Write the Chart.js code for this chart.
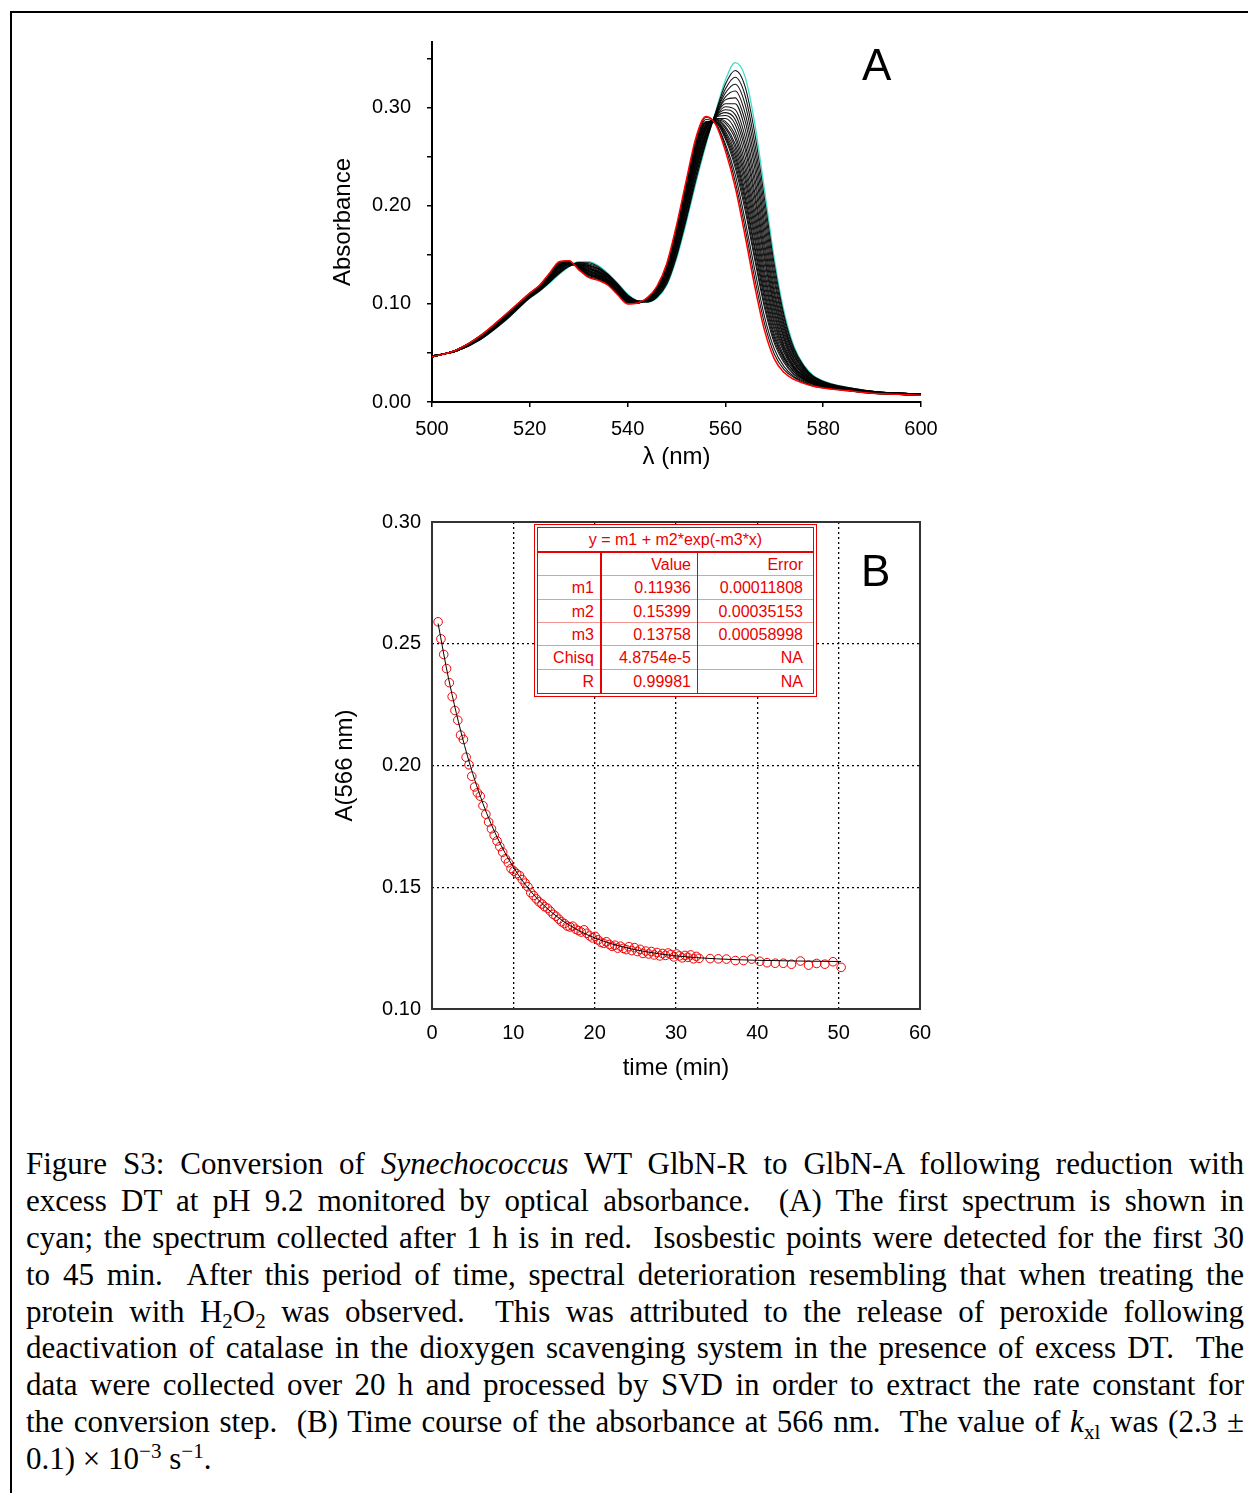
<!DOCTYPE html>
<html><head><meta charset="utf-8">
<script src="https://cdn.jsdelivr.net/npm/chart.js@4.4.1/dist/chart.umd.min.js"></script>
<style>
html,body{margin:0;padding:0;background:#fff;overflow:hidden;width:1248px;height:1493px;}
#frame{position:absolute;left:10px;top:11px;width:1300px;height:1600px;border:2px solid #000;box-sizing:border-box;}
canvas{position:absolute;}
#cA{left:320px;top:30px;}
#cB{left:320px;top:500px;}
.panel{position:absolute;font-family:'Liberation Sans',Arial,sans-serif;font-size:44px;line-height:44px;color:#000;}
.tb{position:absolute;font-family:'Liberation Sans',Arial,sans-serif;font-size:16px;color:rgb(235,0,0);white-space:nowrap;}
#caption{position:absolute;left:26px;top:1146px;width:1218px;font-family:'Liberation Serif','Times New Roman',serif;font-size:31px;color:#000;}
#caption div{height:36.9px;line-height:36.9px;text-align:justify;text-align-last:justify;white-space:normal;}
#caption div.last{text-align:left;text-align-last:left;}
#caption sub,#caption sup{font-size:0.68em;line-height:0;position:relative;vertical-align:baseline;}
#caption sub{top:0.3em;}
#caption sup{top:-0.55em;}
</style>
</head><body>
<div id="frame"></div>
<canvas id="cA" width="640" height="445"></canvas>
<canvas id="cB" width="640" height="590"></canvas>
<div class="panel" style="left:862px;top:43px;">A</div>
<div class="panel" style="left:861px;top:549px;">B</div>
<div id="caption">
<div>Figure S3: Conversion of <i>Synechococcus</i> WT GlbN-R to GlbN-A following reduction with</div>
<div>excess DT at pH 9.2 monitored by optical absorbance.&nbsp; (A) The first spectrum is shown in</div>
<div>cyan; the spectrum collected after 1 h is in red.&nbsp; Isosbestic points were detected for the first 30</div>
<div>to 45 min.&nbsp; After this period of time, spectral deterioration resembling that when treating the</div>
<div>protein with H<sub>2</sub>O<sub>2</sub> was observed.&nbsp; This was attributed to the release of peroxide following</div>
<div>deactivation of catalase in the dioxygen scavenging system in the presence of excess DT.&nbsp; The</div>
<div>data were collected over 20 h and processed by SVD in order to extract the rate constant for</div>
<div>the conversion step.&nbsp; (B) Time course of the absorbance at 566 nm.&nbsp; The value of <i>k</i><sub>xl</sub> was (2.3 ±</div>
<div class="last">0.1) × 10<sup>−3</sup> s<sup>−1</sup>.</div>
</div>
<script>
// ---------- Panel A data: spectra ----------
const waveNm = [500,505,510,515,520,522,524,526,528,530,532,534,536,538,540,542,544,546,548,550,552,554,556,558,560,562,564,566,568,570,572,574,576,578,582,586,590,595,600];
const specFirst = [0.047,0.052,0.064,0.083,0.106,0.113,0.121,0.130,0.138,0.143,0.143,0.139,0.131,0.121,0.110,0.103,0.102,0.106,0.119,0.146,0.183,0.224,0.262,0.296,0.328,0.346,0.332,0.284,0.216,0.146,0.092,0.057,0.038,0.027,0.018,0.014,0.011,0.009,0.008];
const specU1 = [0.047,0.052,0.064,0.083,0.106,0.113,0.122,0.131,0.138,0.142,0.142,0.138,0.130,0.120,0.109,0.103,0.102,0.107,0.120,0.148,0.186,0.227,0.264,0.295,0.324,0.338,0.322,0.274,0.207,0.140,0.088,0.055,0.037,0.026,0.018,0.014,0.011,0.009,0.008];
const specT1 = [0.047,0.052,0.064,0.084,0.107,0.114,0.122,0.132,0.139,0.142,0.141,0.137,0.130,0.120,0.109,0.103,0.102,0.107,0.122,0.150,0.188,0.230,0.266,0.294,0.319,0.331,0.313,0.264,0.199,0.134,0.085,0.053,0.036,0.026,0.017,0.014,0.011,0.009,0.008];
const specU2 = [0.047,0.052,0.065,0.084,0.107,0.114,0.123,0.132,0.139,0.142,0.140,0.136,0.129,0.119,0.108,0.103,0.103,0.108,0.123,0.152,0.190,0.232,0.267,0.294,0.315,0.324,0.304,0.255,0.191,0.128,0.081,0.051,0.035,0.025,0.017,0.013,0.011,0.009,0.008];
const specT2 = [0.047,0.052,0.065,0.084,0.107,0.114,0.123,0.133,0.139,0.141,0.139,0.136,0.128,0.118,0.108,0.103,0.103,0.109,0.124,0.154,0.193,0.235,0.269,0.293,0.311,0.317,0.295,0.246,0.183,0.123,0.078,0.049,0.034,0.025,0.017,0.013,0.011,0.009,0.008];
const specU3 = [0.047,0.052,0.065,0.085,0.107,0.115,0.124,0.134,0.140,0.141,0.139,0.135,0.128,0.118,0.107,0.102,0.103,0.109,0.125,0.156,0.195,0.237,0.270,0.292,0.308,0.310,0.287,0.238,0.176,0.117,0.075,0.048,0.033,0.024,0.017,0.013,0.010,0.009,0.008];
const specT3 = [0.047,0.052,0.065,0.085,0.108,0.115,0.124,0.134,0.140,0.140,0.138,0.134,0.127,0.117,0.107,0.102,0.103,0.110,0.126,0.157,0.197,0.239,0.272,0.292,0.304,0.304,0.279,0.229,0.169,0.112,0.072,0.046,0.032,0.023,0.016,0.013,0.010,0.009,0.008];
const specU4 = [0.047,0.052,0.066,0.085,0.108,0.115,0.125,0.135,0.140,0.140,0.137,0.133,0.127,0.117,0.106,0.102,0.104,0.111,0.127,0.159,0.199,0.241,0.273,0.291,0.301,0.298,0.271,0.222,0.162,0.108,0.069,0.044,0.031,0.023,0.016,0.013,0.010,0.009,0.008];
const specT4 = [0.047,0.052,0.066,0.085,0.108,0.116,0.125,0.136,0.140,0.140,0.136,0.133,0.126,0.116,0.106,0.102,0.104,0.111,0.128,0.160,0.201,0.243,0.274,0.291,0.298,0.293,0.264,0.214,0.156,0.103,0.066,0.043,0.030,0.022,0.016,0.013,0.010,0.009,0.008];
const specU5 = [0.047,0.052,0.066,0.086,0.108,0.116,0.126,0.136,0.141,0.139,0.136,0.132,0.126,0.116,0.105,0.102,0.104,0.112,0.129,0.162,0.203,0.245,0.275,0.290,0.295,0.288,0.258,0.208,0.150,0.099,0.064,0.041,0.029,0.022,0.016,0.013,0.010,0.009,0.008];
const specT5 = [0.047,0.052,0.066,0.086,0.109,0.116,0.126,0.137,0.141,0.139,0.135,0.132,0.125,0.115,0.105,0.102,0.104,0.112,0.130,0.163,0.205,0.247,0.277,0.290,0.292,0.283,0.251,0.201,0.145,0.095,0.061,0.040,0.029,0.022,0.016,0.013,0.010,0.009,0.008];
const specU6 = [0.046,0.053,0.066,0.086,0.109,0.116,0.126,0.137,0.141,0.139,0.134,0.131,0.124,0.114,0.105,0.102,0.104,0.112,0.131,0.164,0.206,0.249,0.278,0.289,0.289,0.277,0.244,0.194,0.139,0.091,0.058,0.039,0.028,0.021,0.015,0.012,0.010,0.008,0.007];
const specT6 = [0.046,0.053,0.066,0.087,0.109,0.117,0.127,0.138,0.141,0.138,0.134,0.130,0.124,0.114,0.104,0.102,0.104,0.113,0.132,0.166,0.208,0.251,0.279,0.289,0.286,0.272,0.238,0.188,0.133,0.087,0.056,0.037,0.027,0.021,0.015,0.012,0.010,0.008,0.007];
const specU7 = [0.046,0.053,0.067,0.087,0.109,0.117,0.127,0.138,0.142,0.138,0.133,0.130,0.124,0.114,0.104,0.102,0.105,0.113,0.132,0.167,0.209,0.252,0.280,0.288,0.284,0.268,0.232,0.182,0.128,0.083,0.054,0.036,0.026,0.020,0.015,0.012,0.010,0.008,0.007];
const specT7 = [0.046,0.053,0.067,0.087,0.109,0.117,0.128,0.138,0.142,0.138,0.133,0.129,0.123,0.113,0.104,0.102,0.105,0.114,0.133,0.168,0.211,0.254,0.281,0.288,0.281,0.263,0.227,0.176,0.123,0.080,0.052,0.035,0.026,0.020,0.015,0.012,0.010,0.008,0.007];
const specU8 = [0.046,0.053,0.067,0.087,0.109,0.117,0.128,0.139,0.142,0.138,0.132,0.129,0.123,0.113,0.103,0.102,0.105,0.114,0.134,0.169,0.212,0.256,0.282,0.287,0.279,0.259,0.221,0.170,0.118,0.076,0.050,0.034,0.025,0.020,0.015,0.012,0.010,0.008,0.007];
const specT8 = [0.046,0.053,0.067,0.087,0.110,0.117,0.128,0.139,0.142,0.137,0.131,0.128,0.122,0.112,0.103,0.102,0.105,0.115,0.135,0.170,0.214,0.257,0.283,0.287,0.276,0.255,0.215,0.165,0.113,0.073,0.047,0.033,0.024,0.019,0.014,0.012,0.010,0.008,0.007];
const specU9 = [0.046,0.053,0.067,0.088,0.110,0.118,0.128,0.140,0.142,0.137,0.131,0.128,0.122,0.112,0.102,0.101,0.105,0.115,0.135,0.171,0.215,0.258,0.284,0.286,0.274,0.251,0.210,0.159,0.109,0.069,0.045,0.031,0.024,0.019,0.014,0.012,0.010,0.008,0.007];
const specT9 = [0.046,0.053,0.067,0.088,0.110,0.118,0.129,0.140,0.143,0.137,0.131,0.127,0.122,0.112,0.102,0.101,0.105,0.115,0.136,0.173,0.217,0.260,0.285,0.286,0.272,0.247,0.206,0.155,0.105,0.066,0.044,0.031,0.023,0.018,0.014,0.012,0.009,0.008,0.007];
const specU10 = [0.046,0.053,0.067,0.088,0.110,0.118,0.129,0.140,0.143,0.136,0.130,0.127,0.121,0.111,0.102,0.101,0.105,0.116,0.137,0.174,0.218,0.261,0.285,0.285,0.270,0.243,0.201,0.149,0.100,0.063,0.042,0.029,0.023,0.018,0.014,0.012,0.009,0.008,0.007];
const specT10 = [0.046,0.053,0.067,0.088,0.110,0.118,0.129,0.141,0.143,0.136,0.130,0.126,0.121,0.111,0.102,0.101,0.105,0.116,0.137,0.175,0.219,0.263,0.286,0.285,0.268,0.239,0.196,0.145,0.096,0.060,0.040,0.028,0.022,0.018,0.014,0.011,0.009,0.008,0.007];
const specT11 = [0.046,0.053,0.068,0.088,0.111,0.118,0.130,0.142,0.143,0.136,0.129,0.126,0.120,0.110,0.101,0.101,0.106,0.117,0.139,0.177,0.222,0.265,0.288,0.284,0.263,0.232,0.186,0.135,0.087,0.054,0.036,0.026,0.021,0.017,0.014,0.011,0.009,0.008,0.007];
const specT12 = [0.046,0.053,0.068,0.089,0.111,0.119,0.131,0.142,0.144,0.135,0.128,0.125,0.120,0.110,0.101,0.101,0.106,0.117,0.140,0.178,0.224,0.268,0.290,0.284,0.260,0.225,0.178,0.126,0.080,0.049,0.033,0.025,0.020,0.016,0.013,0.011,0.009,0.008,0.007];
const specLast = [0.046,0.053,0.068,0.089,0.111,0.119,0.131,0.143,0.144,0.135,0.127,0.124,0.119,0.109,0.100,0.101,0.106,0.118,0.141,0.180,0.226,0.270,0.291,0.283,0.256,0.219,0.170,0.118,0.073,0.044,0.030,0.023,0.019,0.016,0.013,0.011,0.009,0.008,0.007];
const aXTicks = [500,520,540,560,580,600];
const aYTicks = [0,0.05,0.10,0.15,0.20,0.25,0.30,0.35];
const aYLabels = ['0.00','','0.10','','0.20','','0.30',''];

// ---------- Panel B data: time course ----------
const timeMin = [0.75,1.10,1.44,1.79,2.13,2.48,2.82,3.17,3.51,3.86,
4.20,4.55,4.89,5.24,5.58,5.93,6.27,6.62,6.96,7.31,
7.65,8.00,8.34,8.69,9.03,9.38,9.72,10.07,10.41,10.76,
11.10,11.45,11.79,12.14,12.48,12.83,13.17,13.52,13.86,14.21,
14.55,14.90,15.24,15.59,15.93,16.28,16.62,16.97,17.31,17.66,
18.00,18.35,18.69,19.04,19.38,19.73,20.07,20.42,20.76,21.11,
21.45,21.80,22.14,22.49,22.83,23.18,23.52,23.87,24.21,24.56,
24.90,25.25,25.59,25.94,26.28,26.63,26.97,27.32,27.66,28.01,
28.35,28.70,29.04,29.39,29.73,30.08,30.42,30.77,31.11,31.46,
31.80,32.15,32.49,32.84,
34.2,35.2,36.2,37.3,38.3,39.3,40.3,41.2,42.2,43.2,44.2,45.3,46.3,47.3,48.3,49.3,50.3];
const a566 = [0.2590,0.2520,0.2456,0.2398,0.2340,0.2283,0.2226,0.2186,0.2125,0.2107,
0.2034,0.2003,0.1956,0.1912,0.1888,0.1874,0.1835,0.1800,0.1768,0.1740,
0.1714,0.1690,0.1667,0.1644,0.1617,0.1601,0.1577,0.1566,0.1556,0.1548,
0.1531,0.1517,0.1502,0.1478,0.1466,0.1452,0.1440,0.1431,0.1420,0.1414,
0.1402,0.1389,0.1381,0.1369,0.1358,0.1351,0.1341,0.1337,0.1340,0.1328,
0.1322,0.1316,0.1325,0.1311,0.1300,0.1292,0.1298,0.1284,0.1274,0.1270,
0.1276,0.1265,0.1257,0.1262,0.1250,0.1258,0.1249,0.1244,0.1256,0.1240,
0.1252,0.1236,0.1245,0.1228,0.1238,0.1226,0.1236,0.1222,0.1232,0.1218,
0.1228,0.1220,0.1230,0.1224,0.1214,0.1226,0.1218,0.1210,0.1220,0.1212,
0.1222,0.1206,0.1216,0.1208,
0.1207,0.1206,0.1205,0.1199,0.1199,0.1205,0.1196,0.1190,0.1188,0.1188,0.1184,0.1197,0.1180,0.1187,0.1184,0.1194,0.1171];
const fitTime = [0.75,2,4,6,8,10,12,14,16,18,20,23,26,30,35,40,45,50.3];
const fitA = [0.2583,0.2363,0.2082,0.1868,0.1706,0.1583,0.1489,0.1418,0.1364,0.1323,0.1292,0.1259,0.1237,0.1218,0.1206,0.1200,0.1197,0.1195];
const bXTicks = [0,10,20,30,40,50,60];
const bYTicks = [0.10,0.15,0.20,0.25,0.30];
const bYLabels = ['0.10','0.15','0.20','0.25','0.30'];

// ---------- Fit table text ----------
const fitEquation = 'y = m1 + m2*exp(-m3*x)';
const fitRowNames = ['','m1','m2','m3','Chisq','R'];
const fitValues = ['Value','0.11936','0.15399','0.13758','4.8754e-5','0.99981'];
const fitErrors = ['Error','0.00011808','0.00035153','0.00058998','NA','NA'];

// ---------- helpers ----------
const FONT = "'Liberation Sans', Arial, sans-serif";
Chart.defaults.font.family = FONT;
Chart.defaults.color = '#000';
function pts(xs, ys){ return xs.map((x,i)=>({x:x, y:ys[i]})); }
function fixW(w){ return s=>{ s.width=w; s.paddingTop=0; s.paddingBottom=0; s.paddingLeft=0; s.paddingRight=0; }; }
function fixH(h){ return s=>{ s.height=h; s.paddingTop=0; s.paddingBottom=0; s.paddingLeft=0; s.paddingRight=0; }; }
function setTicks(vals){ return s=>{ s.ticks = vals.map(v=>({value:v})); }; }
const tickFont = {size:20, lineHeight:1, family:FONT};
const titleFont = {size:24, lineHeight:1, family:FONT};

// ---------- Chart A ----------
const blackSpectra = [specU1,specT1,specU2,specT2,specU3,specT3,specU4,specT4,specU5,specT5,specU6,specT6,
  specU7,specT7,specU8,specT8,specU9,specT9,specU10,specT10,specT11,specT12];
const dsA = [
  {data:pts(waveNm,specLast), borderColor:'rgb(255,0,0)', borderWidth:1.5}
].concat(blackSpectra.map(s=>({data:pts(waveNm,s), borderColor:'rgba(0,0,0,0.92)', borderWidth:1.1})))
 .concat([{data:pts(waveNm,specFirst), borderColor:'rgb(60,220,200)', borderWidth:1.3}]);
dsA.forEach(d=>{ d.pointRadius=0; d.fill=false; d.cubicInterpolationMode='monotone'; });

new Chart(document.getElementById('cA'), {
  type:'line',
  data:{datasets:dsA},
  options:{
    responsive:false, animation:false, devicePixelRatio:1,
    layout:{padding:{left:11,right:39,top:12,bottom:6}},
    plugins:{legend:{display:false}, tooltip:{enabled:false}},
    scales:{
      x:{type:'linear', min:500, max:600,
        afterBuildTicks:setTicks(aXTicks), afterFit:fixH(67),
        grid:{display:true, drawOnChartArea:false, drawTicks:true, tickLength:5, color:'#000', lineWidth:1.5},
        border:{display:true, color:'#000', width:2},
        ticks:{font:tickFont, padding:12, color:'#000', maxRotation:0, autoSkip:false, callback:(v)=>String(v)},
        title:{display:true, text:'λ (nm)', font:titleFont, padding:0, color:'#000'}},
      y:{type:'linear', min:0, max:0.367,
        afterBuildTicks:setTicks(aYTicks), afterFit:fixW(101),
        grid:{display:true, drawOnChartArea:false, drawTicks:true, tickLength:5, color:'#000', lineWidth:1.5},
        border:{display:true, color:'#000', width:2},
        ticks:{font:tickFont, padding:16, color:'#000', autoSkip:false, callback:(v,i)=>aYLabels[i]},
        title:{display:true, text:'Absorbance', font:titleFont, padding:0, color:'#000'}}
    }
  }
});

// ---------- Chart B ----------
const framePlugin = {id:'frame', afterDatasetsDraw(chart){
  const a = chart.chartArea, ctx = chart.ctx;
  ctx.save(); ctx.strokeStyle='#333'; ctx.lineWidth=2;
  ctx.strokeRect(a.left, a.top, a.right-a.left, a.bottom-a.top); ctx.restore();
}};
new Chart(document.getElementById('cB'), {
  type:'scatter',
  data:{datasets:[
    {data:pts(fitTime,fitA), showLine:true, pointRadius:0, borderColor:'#000', borderWidth:1, cubicInterpolationMode:'monotone', fill:false},
    {data:pts(timeMin,a566), showLine:false, pointRadius:4.3, pointStyle:'circle', borderColor:'rgb(240,0,0)', backgroundColor:'rgba(0,0,0,0)', borderWidth:1}
  ]},
  options:{
    responsive:false, animation:false, devicePixelRatio:1,
    layout:{padding:{left:13,right:40,top:22,bottom:10}},
    plugins:{legend:{display:false}, tooltip:{enabled:false}},
    scales:{
      x:{type:'linear', min:0, max:60,
        afterBuildTicks:setTicks(bXTicks), afterFit:fixH(71),
        grid:{display:true, drawOnChartArea:true, drawTicks:false, color:'#000', lineWidth:1.3},
        border:{display:false, dash:[2,3]},
        ticks:{font:tickFont, padding:14, color:'#000', maxRotation:0, autoSkip:false, callback:(v)=>String(v)},
        title:{display:true, text:'time (min)', font:titleFont, padding:0, color:'#000'}},
      y:{type:'linear', min:0.10, max:0.30,
        afterBuildTicks:setTicks(bYTicks), afterFit:fixW(99),
        grid:{display:true, drawOnChartArea:true, drawTicks:false, color:'#000', lineWidth:1.3},
        border:{display:false, dash:[2,3]},
        ticks:{font:tickFont, padding:11, color:'#000', autoSkip:false, callback:(v,i)=>bYLabels[i]},
        title:{display:true, text:'A(566 nm)', font:titleFont, padding:0, color:'#000'}}
    }
  },
  plugins:[framePlugin]
});

// ---------- Fit table (HTML overlay) ----------
(function(){
  const red = 'rgb(235,0,0)', pale = 'rgb(245,150,150)';
  function box(l,t,w,h,css){ const d=document.createElement('div'); d.className='tb';
    d.style.left=l+'px'; d.style.top=t+'px'; d.style.width=w+'px'; d.style.height=h+'px';
    Object.assign(d.style, css||{}); document.body.appendChild(d); return d; }
  box(534,524,283,173,{border:'4px double '+red, boxSizing:'border-box', background:'#fff'});
  const title = box(538,528,275,23,{textAlign:'center', lineHeight:'23px'}); title.textContent = fitEquation;
  box(538,551,275,2,{background:red});
  const rowH = 140/6;
  for(let i=1;i<6;i++) box(538, Math.round(553+i*rowH)-1, 275, 1, {background:pale});
  box(600,553,2,140,{background:red});
  box(697,553,1,140,{background:red});
  for(let i=0;i<6;i++){
    const top = 553 + i*rowH;
    const c1 = box(538, top, 56, rowH, {textAlign:'right', lineHeight:rowH+'px'}); c1.textContent = fitRowNames[i];
    const c2 = box(602, top, 89, rowH, {textAlign:'right', lineHeight:rowH+'px'}); c2.textContent = fitValues[i];
    const c3 = box(698, top, 105, rowH, {textAlign:'right', lineHeight:rowH+'px'}); c3.textContent = fitErrors[i];
  }
})();
</script>
</body></html>
